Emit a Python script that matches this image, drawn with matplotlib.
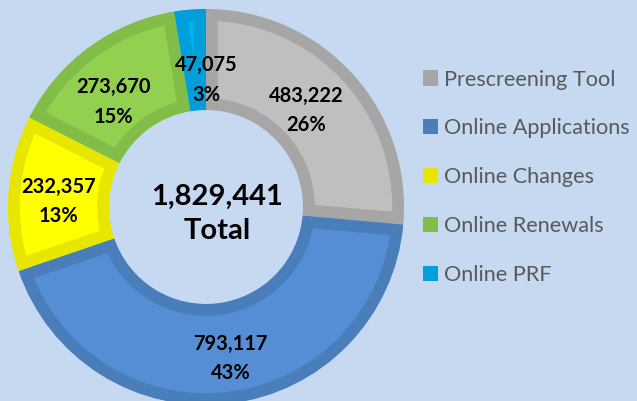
import matplotlib
matplotlib.use("Agg")
import matplotlib.pyplot as plt
from matplotlib.patches import Patch
import numpy as np

categories = ["Prescreening Tool", "Online Applications", "Online Changes", "Online Renewals", "Online PRF"]
values = [483222, 793117, 232357, 273670, 47075]
pct_labels = ["26%", "43%", "13%", "15%", "3%"]
total_label = "1,829,441"
fill_colors = ["#bfbfbf", "#558ed5", "#ffff00", "#92d050", "#00b0f0"]
edge_colors = ["#a6a6a6", "#4a7ebb", "#e6e600", "#82bd48", "#009fd9"]
legend_colors = ["#a6a6a6", "#4a7ebb", "#e6e600", "#82bd48", "#009fd9"]

BG = "#c6d9f1"
W, H = 637, 401
fig = plt.figure(figsize=(W / 100, H / 100), dpi=100, facecolor=BG)

cx, cy, R = 206, 207, 198
ax = fig.add_axes([(cx - R) / W, (H - cy - R) / H, 2 * R / W, 2 * R / H])
ax.set_facecolor(BG)

inner = 97 / 198
wedges, _ = ax.pie(values, startangle=90, counterclock=False, radius=1,
                   colors=fill_colors,
                   wedgeprops=dict(width=1 - inner, linewidth=17))
for w, ec in zip(wedges, edge_colors):
    w.set_edgecolor(ec)
    w.set_clip_on(True)
    w.set_clip_path(w)

ax.set_xlim(-1, 1)
ax.set_ylim(-1, 1)
ax.set_aspect("equal")
ax.axis("off")

font = "Lato"
mid_r = (1 + inner) / 2
# small label position tweaks (axes data units)
offsets = [(-0.045, -0.015), (0.035, -0.025), (0.0, -0.025), (-0.025, -0.07), (0.0, 0.0)]
for i, w in enumerate(wedges):
    ang = np.deg2rad((w.theta1 + w.theta2) / 2)
    r = mid_r
    if i == 4:
        r = mid_r * 0.86
        ang = np.deg2rad(90)
    x = r * np.cos(ang) + offsets[i][0]
    y = r * np.sin(ang) + offsets[i][1]
    ax.text(x, y, f"{values[i]:,}\n{pct_labels[i]}", ha="center", va="center",
            fontsize=14.5, fontweight="bold", family=font, color="black",
            linespacing=1.6)

ax.text(0.055, -0.035, f"{total_label}\nTotal", ha="center", va="center",
        fontsize=21, fontweight="bold", family=font, color="black", linespacing=1.4)

handles = [Patch(facecolor=c, edgecolor="none") for c in legend_colors]
leg = fig.legend(handles, categories, loc="upper left",
                 bbox_to_anchor=(414 / W, 1 - 61 / H), frameon=False,
                 prop=dict(family=font, size=15.6), labelcolor="#595959",
                 handlelength=0.7, handleheight=0.7, handletextpad=0.3,
                 labelspacing=1.33, borderaxespad=0)

fig.savefig("out.png", dpi=100, facecolor=BG)
